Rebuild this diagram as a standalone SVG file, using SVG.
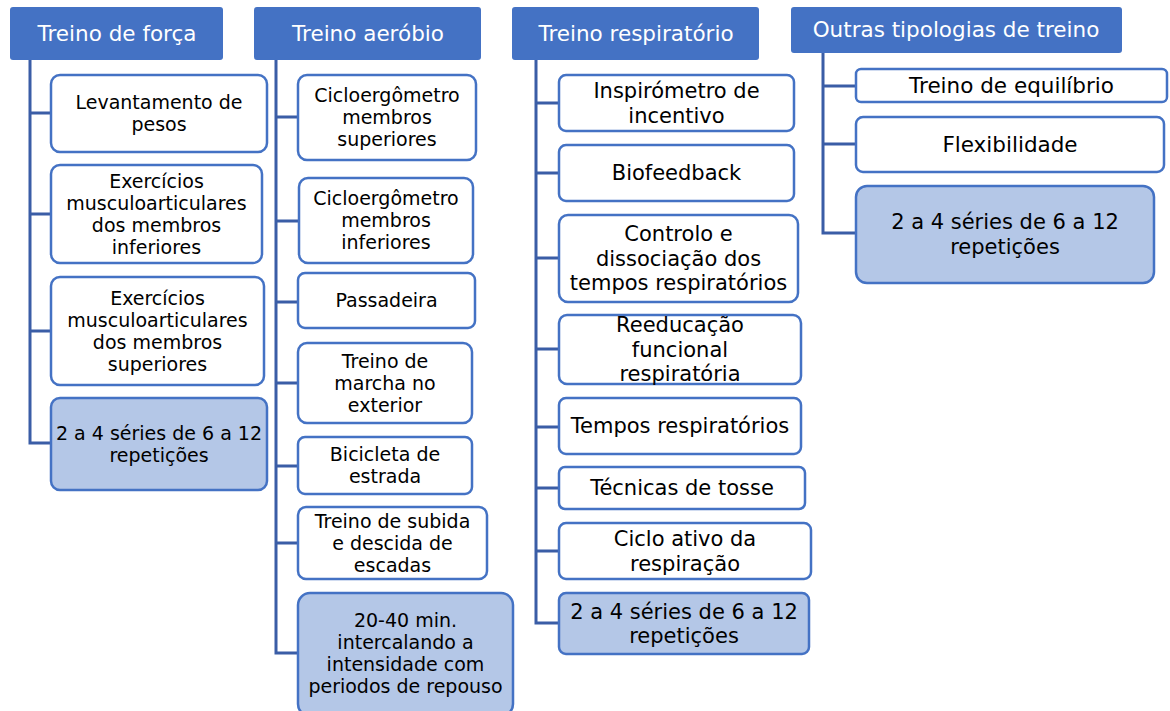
<svg xmlns="http://www.w3.org/2000/svg" width="1170" height="711" viewBox="0 0 1170 711">
<style>
.hd{fill:#4472C4;}
.ht{font-family:"DejaVu Sans",sans-serif;font-size:21.5px;fill:#FFFFFF;text-anchor:middle;}
.it{fill:#FFFFFF;stroke:#4472C4;stroke-width:2.5;}
.bl{fill:#B4C7E7;stroke:#4472C4;stroke-width:2.5;}
.t19{font-family:"DejaVu Sans",sans-serif;font-size:19px;fill:#000000;text-anchor:middle;}
.t21{font-family:"DejaVu Sans",sans-serif;font-size:21px;fill:#000000;text-anchor:middle;}
.t215{font-family:"DejaVu Sans",sans-serif;font-size:21.5px;fill:#000000;text-anchor:middle;}
.cn{fill:none;stroke:#3A5DA6;stroke-width:3;}
</style>
<rect width="1170" height="711" fill="#FFFFFF"/>
<g id="connectors">
<path class="cn" d="M30,60 V443 H51 M30,113 H51 M30,214 H51 M30,331 H51"/>
<path class="cn" d="M276,60 V653 H298 M276,117 H298 M276,221 H299 M276,302 H298 M276,383 H298 M276,466 H298 M276,543 H298"/>
<path class="cn" d="M536,60 V623 H559 M536,103 H559 M536,173 H559 M536,258 H559 M536,349 H559 M536,427 H559 M536,488 H559 M536,551 H559"/>
<path class="cn" d="M823,53 V233 H856 M823,86 H856 M823,144 H856"/>
</g>
<g id="h1"><rect class="hd" x="10" y="7" width="213" height="53" rx="3"/><text class="ht" x="117" y="41">Treino de força</text></g>
<g id="h2"><rect class="hd" x="254" y="7" width="227" height="53" rx="3"/><text class="ht" x="368" y="41">Treino aeróbio</text></g>
<g id="h3"><rect class="hd" x="512" y="7" width="247" height="53" rx="3"/><text class="ht" x="636" y="41">Treino respiratório</text></g>
<g id="h4"><rect class="hd" x="791" y="7" width="331" height="46" rx="3"/><text class="ht" x="956" y="37">Outras tipologias de treino</text></g>

<g id="f1"><rect class="it" x="51" y="75" width="216" height="77" rx="9"/><text class="t19"><tspan x="159" y="109.1">Levantamento de</tspan><tspan x="159" y="131.1">pesos</tspan></text></g>
<g id="f2"><rect class="it" x="51" y="165" width="211" height="98" rx="9"/><text class="t19"><tspan x="156.5" y="187.6">Exercícios</tspan><tspan x="156.5" y="209.6">musculoarticulares</tspan><tspan x="156.5" y="231.6">dos membros</tspan><tspan x="156.5" y="253.6">inferiores</tspan></text></g>
<g id="f3"><rect class="it" x="51" y="277" width="213" height="108" rx="9"/><text class="t19"><tspan x="157.5" y="304.6">Exercícios</tspan><tspan x="157.5" y="326.6">musculoarticulares</tspan><tspan x="157.5" y="348.6">dos membros</tspan><tspan x="157.5" y="370.6">superiores</tspan></text></g>
<g id="f4"><rect class="bl" x="51" y="398" width="216" height="92" rx="9"/><text class="t19"><tspan x="159" y="439.6">2 a 4 séries de 6 a 12</tspan><tspan x="159" y="461.6">repetições</tspan></text></g>

<g id="a1"><rect class="it" x="298" y="75" width="178" height="85" rx="9"/><text class="t19"><tspan x="387" y="102.1">Cicloergômetro</tspan><tspan x="387" y="124.1">membros</tspan><tspan x="387" y="146.1">superiores</tspan></text></g>
<g id="a2"><rect class="it" x="299" y="178" width="174" height="85" rx="9"/><text class="t19"><tspan x="386" y="205.1">Cicloergômetro</tspan><tspan x="386" y="227.1">membros</tspan><tspan x="386" y="249.1">inferiores</tspan></text></g>
<g id="a3"><rect class="it" x="298" y="273" width="177" height="55" rx="7"/><text class="t19" x="386.5" y="307.1">Passadeira</text></g>
<g id="a4"><rect class="it" x="298" y="343" width="174" height="80" rx="9"/><text class="t19"><tspan x="385" y="367.6">Treino de</tspan><tspan x="385" y="389.6">marcha no</tspan><tspan x="385" y="411.6">exterior</tspan></text></g>
<g id="a5"><rect class="it" x="298" y="437" width="174" height="57" rx="7"/><text class="t19"><tspan x="385" y="461.1">Bicicleta de</tspan><tspan x="385" y="483.1">estrada</tspan></text></g>
<g id="a6"><rect class="it" x="298" y="507" width="189" height="72" rx="8"/><text class="t19"><tspan x="392.5" y="527.6">Treino de subida</tspan><tspan x="392.5" y="549.6">e descida de</tspan><tspan x="392.5" y="571.6">escadas</tspan></text></g>
<g id="a7"><rect class="bl" x="298" y="593" width="215" height="123" rx="12"/><text class="t19"><tspan x="405.5" y="627.1">20-40 min.</tspan><tspan x="405.5" y="649.1">intercalando a</tspan><tspan x="405.5" y="671.1">intensidade com</tspan><tspan x="405.5" y="693.1">periodos de repouso</tspan></text></g>

<g id="r1"><rect class="it" x="559" y="75" width="235" height="56" rx="7"/><text class="t21"><tspan x="676.5" y="98.1">Inspirómetro de</tspan><tspan x="676.5" y="122.6">incentivo</tspan></text></g>
<g id="r2"><rect class="it" x="559" y="145" width="235" height="56" rx="7"/><text class="t21" x="676.5" y="180.4">Biofeedback</text></g>
<g id="r3"><rect class="it" x="559" y="215" width="239" height="87" rx="9"/><text class="t21"><tspan x="678.5" y="241.4">Controlo e</tspan><tspan x="678.5" y="265.9">dissociação dos</tspan><tspan x="678.5" y="290.4">tempos respiratórios</tspan></text></g>
<g id="r4"><rect class="it" x="559" y="315" width="242" height="69" rx="8"/><text class="t21"><tspan x="680" y="332.4">Reeducação</tspan><tspan x="680" y="356.9">funcional</tspan><tspan x="680" y="381.4">respiratória</tspan></text></g>
<g id="r5"><rect class="it" x="559" y="398" width="242" height="56" rx="7"/><text class="t21" x="680" y="433.4">Tempos respiratórios</text></g>
<g id="r6"><rect class="it" x="559" y="467" width="246" height="42" rx="6"/><text class="t21" x="682" y="495.4">Técnicas de tosse</text></g>
<g id="r7"><rect class="it" x="559" y="523" width="252" height="56" rx="7"/><text class="t21"><tspan x="685" y="546.1">Ciclo ativo da</tspan><tspan x="685" y="570.6">respiração</tspan></text></g>
<g id="r8"><rect class="bl" x="559" y="593" width="250" height="61" rx="7"/><text class="t21"><tspan x="684" y="618.6">2 a 4 séries de 6 a 12</tspan><tspan x="684" y="643.1">repetições</tspan></text></g>

<g id="o1"><rect class="it" x="856" y="69" width="311" height="33" rx="5"/><text class="t215" x="1011.5" y="93">Treino de equilíbrio</text></g>
<g id="o2"><rect class="it" x="856" y="117" width="308" height="55" rx="7"/><text class="t215" x="1010" y="151.5">Flexibilidade</text></g>
<g id="o3"><rect class="bl" x="856" y="186" width="298" height="97" rx="11"/><text class="t21"><tspan x="1005" y="229.4">2 a 4 séries de 6 a 12</tspan><tspan x="1005" y="254.4">repetições</tspan></text></g>
</svg>
